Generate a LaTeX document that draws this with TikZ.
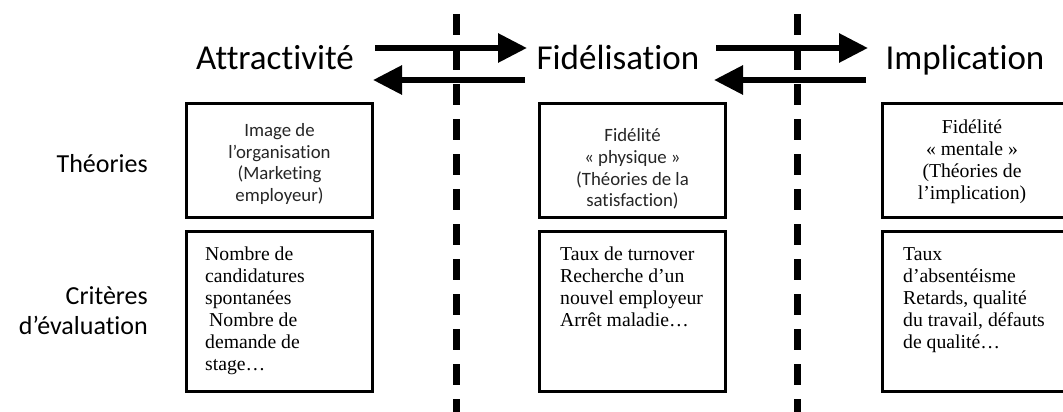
\documentclass[tikz,border=0pt]{standalone}
\usepackage{fontspec}
\setmainfont{Liberation Serif}
\newfontfamily\calibri[Ligatures={NoCommon,NoContextual,NoRequired}]{Carlito}
\usetikzlibrary{arrows.meta}

\begin{document}
\begin{tikzpicture}[x=1pt,y=-1pt,
        title node/.style={font=\calibri\fontsize{35}{40}\selectfont,anchor=base,inner sep=0pt},
        side node/.style={font=\calibri\fontsize{26}{30}\selectfont,align=right,inner sep=0pt},
        box node/.style={draw,line width=3pt,minimum width=186pt,inner sep=0pt},
        sans text/.style={font=\calibri\fontsize{18.8}{21.7}\selectfont,align=center,text=black!85,inner sep=0pt},
        serif text/.style={font=\fontsize{19.7}{22}\selectfont,align=left,inner sep=0pt},
        flow/.style={line width=6pt,-{Triangle[length=29pt,width=28pt]}},
        sep line/.style={line width=7pt,dash pattern=on 21pt off 14pt}]
                        \fill[white] (0,0) rectangle (1063,412);
                        \useasboundingbox (0,0) rectangle (1063,412);

                        % separations
                        \coordinate (d1) at (456,14);
                        \coordinate (d2) at (456,420);
                        \coordinate (d3) at (797,14);
                        \coordinate (d4) at (797,420);
                        \draw[sep line] (d1)--(d2);
                        \draw[sep line] (d3)--(d4);

                        % titles
                        \node[title node] (t1) at (275,70) {Attractivité};
                        \node[title node] (t2) at (618,70) {Fidélisation};
                        \node[title node] (t3) at (965,70) {Implication};

                        \coordinate (a1) at (375,48);
                        \coordinate (a2) at (527,48);
                        \coordinate (a3) at (525,80);
                        \coordinate (a4) at (373,80);
                        \coordinate (a5) at (716,48);
                        \coordinate (a6) at (868,48);
                        \coordinate (a7) at (866,80);
                        \coordinate (a8) at (714,80);
                        \draw[flow] (a1)--(a2);
                        \draw[flow] (a3)--(a4);
                        \draw[flow] (a5)--(a6);
                        \draw[flow] (a7)--(a8);

                        % left labels
                        \node[side node,anchor=base east] (s1) at (148,172) {Théories};
                        \node[side node,anchor=east] (s2) at (148,311) {Critères\\d’évaluation};

                        % boxes
                        \node[box node,minimum height=114pt] (b1) at (279.5,160.5) {};
                        \node[box node,minimum height=114pt] (b2) at (632.5,160.5) {};
                        \node[box node,minimum height=114pt] (b3) at (975.5,160.5) {};
                        \node[box node,minimum height=160pt] (c1) at (279.5,311.5) {};
                        \node[box node,minimum height=160pt] (c2) at (632.5,311.5) {};
                        \node[box node,minimum height=160pt] (c3) at (975.5,311.5) {};

                        \node[sans text] (x1) at (279.5,164) {Image de\\l’organisation\\(Marketing\\employeur)};
                        \node[sans text] (x2) at (632.5,169) {Fidélité\\« physique »\\(Théories de la\\satisfaction)};
                        \node[serif text,align=center] (x3) at (972,162) {Fidélité\\« mentale »\\(Théories de\\l’implication)};

                        \node[serif text,anchor=north west] (y1) at (205,247) {Nombre de\\candidatures\\spontanées\\\hspace*{4pt}Nombre de\\demande de\\stage…};
                        \node[serif text,anchor=north west] (y2) at (560,247) {Taux de turnover\\Recherche d’un\\nouvel employeur\\Arrêt maladie…};
                        \node[serif text,anchor=north west] (y3) at (903,247) {Taux\\d’absentéisme\\Retards, qualité\\du travail, défauts\\de qualité…};
        \end{tikzpicture}
\end{document}
